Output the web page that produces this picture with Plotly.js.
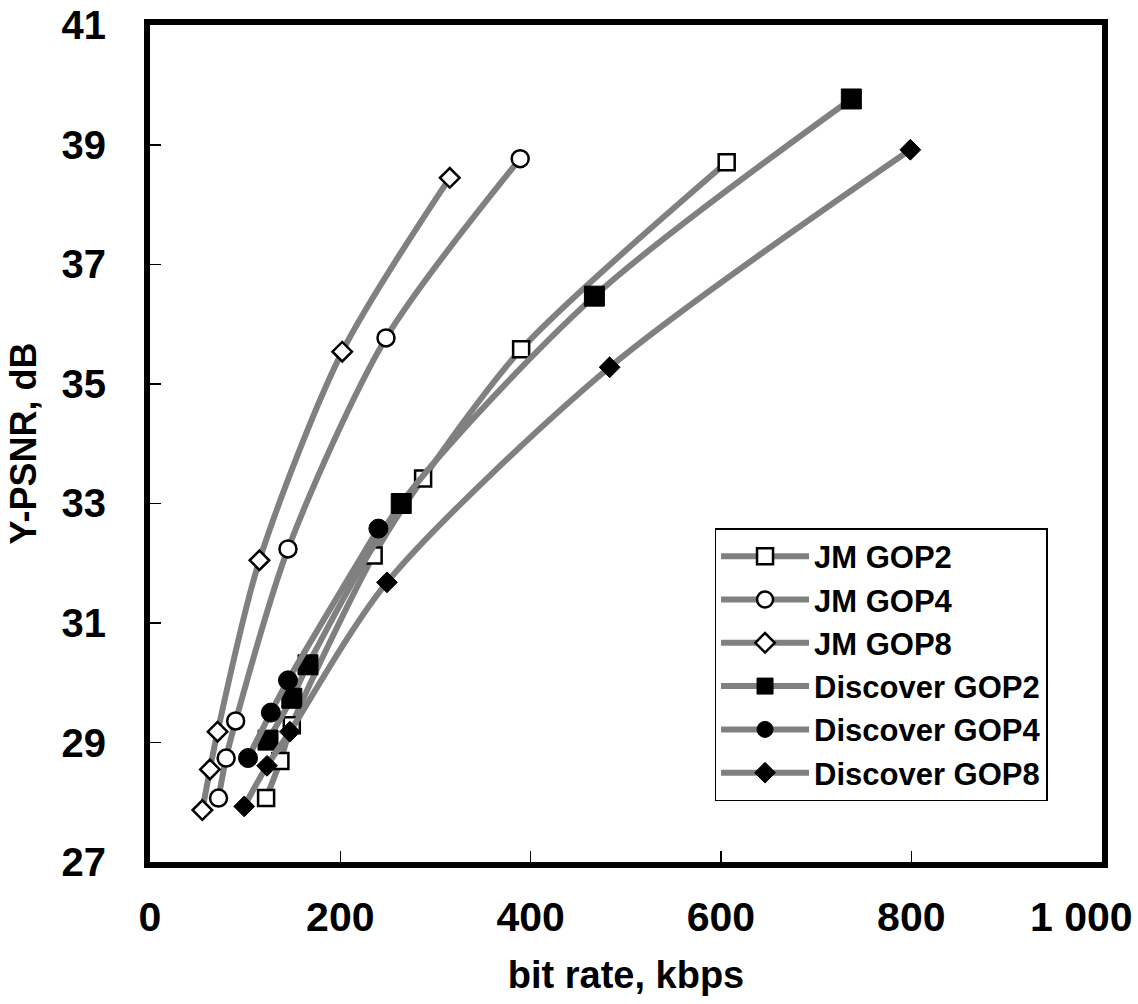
<!DOCTYPE html>
<html>
<head>
<meta charset="utf-8">
<script src="https://cdn.plot.ly/plotly-3.0.1.min.js"></script>
<style>html,body{margin:0;padding:0;background:#fff;}#chart{width:1138px;height:1004px;}</style>
</head>
<body>
<div id="chart"></div>
<script>
// Data (bit rate kbps, Y-PSNR dB)
const seriesNames = ['JM GOP2', 'JM GOP4', 'JM GOP8', 'Discover GOP2', 'Discover GOP4', 'Discover GOP8'];

const jmGop2X = [122, 137, 149, 235, 287, 390, 606];
const jmGop2Y = [28.07, 28.69, 29.29, 32.13, 33.42, 35.58, 38.71];

const jmGop4X = [72, 80, 90, 145, 248, 389];
const jmGop4Y = [28.07, 28.74, 29.36, 32.24, 35.77, 38.77];

const jmGop8X = [55, 63, 71, 115, 202, 315];
const jmGop8Y = [27.87, 28.55, 29.18, 32.05, 35.54, 38.45];

const discGop2X = [124, 149, 166, 264, 467, 737];
const discGop2Y = [29.04, 29.74, 30.30, 33.00, 36.47, 39.77];

const discGop4X = [103, 127, 145, 240];
const discGop4Y = [28.74, 29.50, 30.04, 32.58];

const discGop8X = [99, 123, 147, 249, 483, 799];
const discGop8Y = [27.93, 28.61, 29.18, 31.68, 35.28, 38.92];

const xTickVals = [0, 200, 400, 600, 800, 1000];
const xTickText = ['0', '200', '400', '600', '800', '1 000'];
const yTickVals = [27, 29, 31, 33, 35, 37, 39, 41];
const yTickText = ['27', '29', '31', '33', '35', '37', '39', '41'];

const lineColor = '#808080';
const boldFont = '"Liberation Sans", Arial, sans-serif';

// the last x label sits at the page edge: draw it right-aligned so it stays inside
const lastIdx = xTickText.length - 1;
const axisTickText = xTickText.map((t, i) => i === lastIdx ? '' : t);

function mk(name, x, y, symbol, size, filled) {
  return {
    type: 'scatter', mode: 'lines+markers', name: name, x: x, y: y,
    line: {color: lineColor, width: 6, shape: 'spline', smoothing: 0.8},
    marker: {symbol: symbol, size: size,
      color: filled ? '#000000' : '#ffffff',
      line: {color: '#000000', width: filled ? 1 : 2.5}},
    cliponaxis: false
  };
}

const traces = [
  mk(seriesNames[0], jmGop2X, jmGop2Y, 'square', 16, false),
  mk(seriesNames[1], jmGop4X, jmGop4Y, 'circle', 17, false),
  mk(seriesNames[2], jmGop8X, jmGop8Y, 'diamond', 15, false),
  mk(seriesNames[3], discGop2X, discGop2Y, 'square', 20, true),
  mk(seriesNames[4], discGop4X, discGop4Y, 'circle', 19, true),
  mk(seriesNames[5], discGop8X, discGop8Y, 'diamond', 16, true)
];

const layout = {
  width: 1138, height: 1004,
  margin: {l: 150, r: 36, t: 25, b: 142},
  paper_bgcolor: '#ffffff', plot_bgcolor: '#ffffff',
  showlegend: true,
  xaxis: {
    range: [0, 1000.4], tickmode: 'array', tickvals: xTickVals, ticktext: axisTickText,
    ticks: 'inside', ticklen: 11, tickwidth: 1.5, tickcolor: '#000',
    showline: true, linecolor: '#000', linewidth: 6, mirror: true,
    showgrid: false, zeroline: false, fixedrange: true,
    ticklabelstandoff: 14, ticklabeloverflow: 'allow',
    tickfont: {family: boldFont, size: 41, color: '#000', weight: 'bold'},
    title: {text: '<b>bit rate, kbps</b>', standoff: 24,
      font: {family: boldFont, size: 38, color: '#000'}}
  },
  yaxis: {
    range: [27, 41.008], tickmode: 'array', tickvals: yTickVals, ticktext: yTickText,
    ticks: 'inside', ticklen: 11, tickwidth: 1.5, tickcolor: '#000',
    showline: true, linecolor: '#000', linewidth: 6, mirror: true,
    showgrid: false, zeroline: false, fixedrange: true,
    ticklabelstandoff: 30, ticklabeloverflow: 'allow',
    tickfont: {family: boldFont, size: 40, color: '#000', weight: 'bold'},
    title: {text: '<b>Y-PSNR, dB</b>', standoff: 16,
      font: {family: boldFont, size: 36, color: '#000'}}
  },
  annotations: [{
    xref: 'x', yref: 'paper', x: xTickVals[lastIdx], y: -0.066,
    xanchor: 'right', yanchor: 'middle', xshift: 33, showarrow: false,
    text: xTickText[lastIdx],
    font: {family: boldFont, size: 41, color: '#000', weight: 'bold'}
  }],
  legend: {
    x: 0.593, y: 0.399, xanchor: 'left', yanchor: 'top',
    bgcolor: '#ffffff', bordercolor: '#000', borderwidth: 1.5,
    font: {family: boldFont, size: 31, color: '#000', weight: 'bold'},
    itemwidth: 88, tracegroupgap: 0
  }
};

Plotly.newPlot('chart', traces, layout, {staticPlot: true, displayModeBar: false});
</script>
</body>
</html>
